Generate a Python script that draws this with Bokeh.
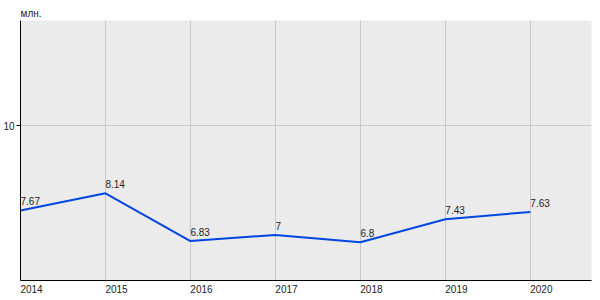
from bokeh.plotting import figure
from bokeh.models import ColumnDataSource, FixedTicker, Range1d, LinearAxis, Grid
from bokeh.core.properties import value
from bokeh.embed import file_html
from bokeh.resources import INLINE

years = [2014, 2015, 2016, 2017, 2018, 2019, 2020]
values = [7.67, 8.14, 6.83, 7.0, 6.8, 7.43, 7.63]
labels = ["7.67", "8.14", "6.83", "7", "6.8", "7.43", "7.63"]
y_ticks = [10]
unit = "млн."

X0, X1 = 2014, 2020.72
SHIFT = 0.13  # moves year labels so they start at their gridline

src = ColumnDataSource(dict(x=years, y=values, t=labels))

p = figure(width=600, height=300, output_backend="svg", toolbar_location=None,
           x_range=Range1d(X0, X1), y_range=Range1d(5.75, 12.88),
           x_axis_type=None,
           min_border_left=20, min_border_right=9, min_border_top=20, min_border_bottom=20)
p.border_fill_color = "white"
p.outline_line_color = None
p.background_fill_color = "#ebebeb"

p.title.text = unit
p.title.text_font = "Liberation Sans"
p.title.text_font_size = "10px"
p.title.text_font_style = "normal"
p.title.text_color = "#222222"
p.title.align = "left"
p.title.offset = 0
p.title.standoff = 3

p.extra_x_ranges = {"lab": Range1d(X0 - SHIFT, X1 - SHIFT)}
xax = LinearAxis(x_range_name="lab", ticker=FixedTicker(ticks=years))
xax.major_tick_out = 0
xax.major_tick_in = 0
xax.minor_tick_line_color = None
xax.major_label_standoff = 4
p.add_layout(xax, "below")

p.yaxis.ticker = FixedTicker(ticks=y_ticks)
p.yaxis.minor_tick_line_color = None
p.yaxis.major_tick_out = 4
p.yaxis.major_tick_in = 0
p.yaxis.major_label_standoff = 2
for ax in (xax, p.yaxis[0]):
    ax.axis_line_color = "black"
    ax.axis_line_width = 1
    ax.major_label_text_font = "Liberation Sans"
    ax.major_label_text_font_size = "10px"
    ax.major_label_text_color = "#222222"
    ax.major_tick_line_color = "black"

vgrid = Grid(dimension=0, ticker=FixedTicker(ticks=years),
             grid_line_color="#c8c8c8", grid_line_width=1)
p.add_layout(vgrid)
p.ygrid.grid_line_color = "#c8c8c8"
p.ygrid.grid_line_width = 1

p.line("x", "y", source=src, line_color="#0047e0", line_width=2)
p.text("x", "y", text="t", source=src, x_offset=0, y_offset=-9,
       text_font=value("Liberation Sans"), text_font_size="10px",
       text_color="#222222", text_align="left", text_baseline="alphabetic")

open("out.html", "w").write(file_html(p, INLINE))
